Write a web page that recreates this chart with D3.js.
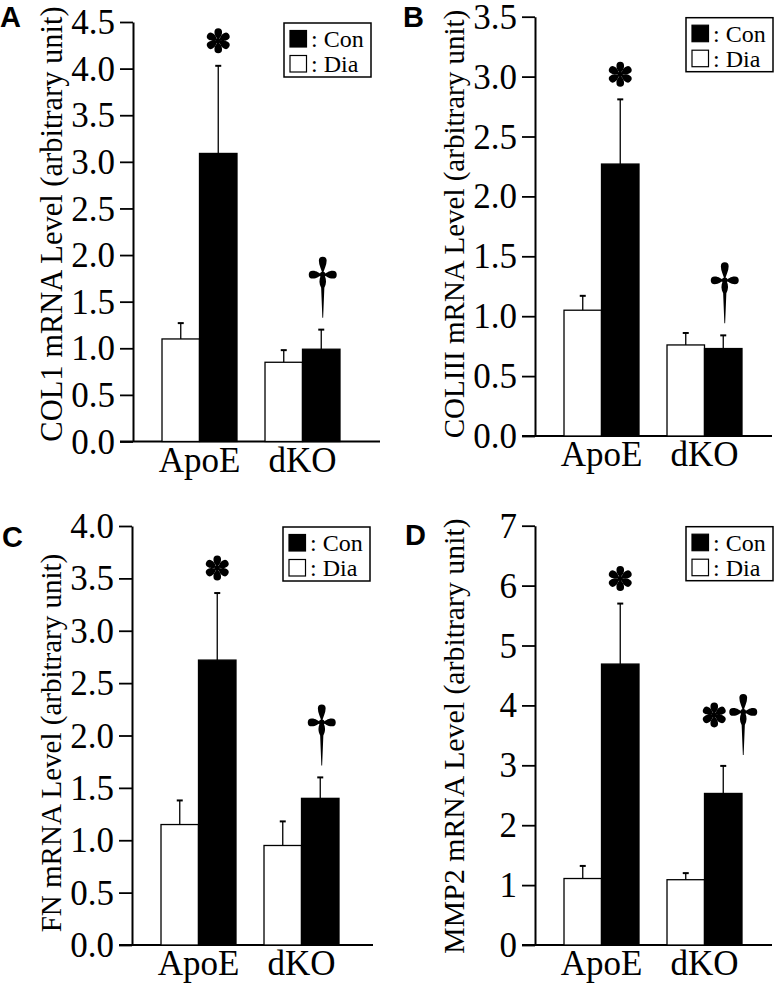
<!DOCTYPE html>
<html>
<head>
<meta charset="utf-8">
<script src="https://cdn.jsdelivr.net/npm/d3@7"></script>
<style>
  html, body { margin: 0; padding: 0; background: #fff; }
  svg { display: block; }
</style>
</head>
<body>
<script>
// ---------------- DATA ----------------
const categories = ["ApoE", "dKO"];
const seriesNames = ["Dia", "Con"];
const legendLabels = [": Con", ": Dia"];

const panelLetters = ["A", "B", "C", "D"];
const yTitles = [
  "COL1 mRNA Level (arbitrary unit)",
  "COLIII mRNA Level (arbitrary unit)",
  "FN mRNA Level (arbitrary unit)",
  "MMP2 mRNA Level (arbitrary unit)"
];
const yMax = [4.5, 3.5, 4.0, 7];
const yStep = [0.5, 0.5, 0.5, 1];
const yFormat = [".1f", ".1f", ".1f", "d"];

// means [ApoE, dKO]
const diaMean = [[1.10, 0.85], [1.05, 0.76], [1.15, 0.95], [1.11, 1.09]];
const diaErr  = [[0.17, 0.13], [0.12, 0.10], [0.23, 0.23], [0.21, 0.11]];
const conMean = [[3.09, 0.99], [2.27, 0.73], [2.72, 1.40], [4.69, 2.53]];
const conErr  = [[0.94, 0.21], [0.54, 0.11], [0.64, 0.20], [1.01, 0.46]];
// significance marks on the Con bars [ApoE, dKO]
const marks = [["*", "†"], ["*", "†"], ["*", "†"], ["*", "*†"]];

// ---------------- LAYOUT ----------------
const W = 777, H = 987;
const layout = [
  { axisX: 133, yTop: 22,  yBot: 441.5, xEnd: 380, letterX: 0,   letterY: 27,  titleY: 224, titleSize: 30.5 },
  { axisX: 535, yTop: 16.7, yBot: 436,  xEnd: 772, letterX: 403, letterY: 27,  titleY: 224, titleSize: 29 },
  { axisX: 132, yTop: 526, yBot: 945,   xEnd: 373, letterX: 2,   letterY: 547, titleY: 743, titleSize: 29 },
  { axisX: 535, yTop: 525.7, yBot: 945, xEnd: 772, letterX: 405, letterY: 545, titleY: 736, titleSize: 29.8 }
];

const serif = "'Liberation Serif', 'Times New Roman', serif";
const sans = "'Liberation Sans', Arial, sans-serif";

const svg = d3.select("body").append("svg")
  .attr("width", W).attr("height", H)
  .attr("viewBox", `0 0 ${W} ${H}`);

svg.append("rect").attr("width", W).attr("height", H).attr("fill", "#fff");

// teardrop petal path pointing up (negative y), from origin
function petal(L, r) {
  return `M0,0 C${r*0.35},${-L*0.3} ${r},${-(L-2.2*r)} ${r},${-(L-r)} ` +
         `A${r},${r} 0 0 0 ${-r},${-(L-r)} ` +
         `C${-r},${-(L-2.2*r)} ${-r*0.35},${-L*0.3} 0,0 Z`;
}
function drawAsterisk(g, cx, cy) {
  const a = g.append("g").attr("transform", `translate(${cx},${cy})`);
  for (let k = 0; k < 6; k++) {
    a.append("path").attr("d", petal(12.5, 3.8))
      .attr("transform", `rotate(${k * 60})`).attr("fill", "#000");
  }
  a.append("circle").attr("r", 2.5).attr("fill", "#000");
}
function drawDagger(g, cx, cy) {
  const a = g.append("g").attr("transform", `translate(${cx},${cy})`);
  a.append("path").attr("d", petal(18, 3.9)).attr("fill", "#000");
  a.append("path").attr("d", petal(14, 3.9)).attr("transform", "rotate(-90)").attr("fill", "#000");
  a.append("path").attr("d", petal(14, 3.9)).attr("transform", "rotate(90)").attr("fill", "#000");
  a.append("path")
    .attr("d", "M-2,1 C-3.8,5 -3.8,9 -1.6,13 L-0.4,43 L0.4,43 L1.6,13 C3.8,9 3.8,5 2,1 Z")
    .attr("fill", "#000");
  a.append("circle").attr("r", 2.8).attr("fill", "#000");
}

layout.forEach((L, p) => {
  const g = svg.append("g");

  const y = d3.scaleLinear().domain([0, yMax[p]]).range([L.yBot, L.yTop]);
  const x0 = d3.scaleBand().domain(categories)
    .range([L.axisX, L.axisX + 236]).paddingInner(0.272).paddingOuter(0.2816);
  const x1 = d3.scaleBand().domain(seriesNames).range([0, x0.bandwidth()]).padding(0);

  // y axis
  const ticks = d3.range(0, yMax[p] + yStep[p] / 2, yStep[p]);
  const yAxis = d3.axisLeft(y).tickValues(ticks)
    .tickFormat(d3.format(yFormat[p]))
    .tickSizeInner(13).tickSizeOuter(0).tickPadding(5);
  const ga = g.append("g").attr("transform", `translate(${L.axisX},0)`).call(yAxis);
  ga.attr("font-family", serif).attr("font-size", 35);
  ga.select(".domain").attr("stroke", "#000").attr("stroke-width", 2);
  ga.selectAll(".tick line").attr("stroke", "#000").attr("stroke-width", 1.8);
  ga.selectAll(".tick text").attr("font-family", serif).attr("font-size", 35)
    .attr("fill", "#000").attr("dy", "0.33em");

  // x axis baseline (extends to the left tick end)
  g.append("line")
    .attr("x1", L.axisX - 13).attr("x2", L.xEnd)
    .attr("y1", y(0)).attr("y2", y(0))
    .attr("stroke", "#000").attr("stroke-width", 2);

  // category labels
  g.selectAll(".cat").data(categories).enter().append("text")
    .attr("x", d => x0(d) + x0.bandwidth() / 2)
    .attr("y", y(0) + 30)
    .attr("text-anchor", "middle")
    .attr("font-family", serif).attr("font-size", 35).attr("fill", "#000")
    .text(d => d);

  // bars
  const rows = [];
  categories.forEach((c, i) => {
    rows.push({ cat: c, s: "Dia", m: diaMean[p][i], e: diaErr[p][i], i });
    rows.push({ cat: c, s: "Con", m: conMean[p][i], e: conErr[p][i], i });
  });

  rows.forEach(d => {
    const cx = x0(d.cat) + x1(d.s) + x1.bandwidth() / 2;
    g.append("line").attr("x1", cx).attr("x2", cx)
      .attr("y1", y(d.m)).attr("y2", y(d.m + d.e))
      .attr("stroke", "#000").attr("stroke-width", 1.3);
    g.append("line").attr("x1", cx - 3).attr("x2", cx + 3)
      .attr("y1", y(d.m + d.e)).attr("y2", y(d.m + d.e))
      .attr("stroke", "#000").attr("stroke-width", 2);
  });

  g.selectAll(".bar").data(rows).enter().append("rect")
    .attr("x", d => x0(d.cat) + x1(d.s))
    .attr("y", d => y(d.m))
    .attr("width", x1.bandwidth())
    .attr("height", d => y(0) - y(d.m))
    .attr("fill", d => d.s === "Con" ? "#000" : "#fff")
    .attr("stroke", "#000").attr("stroke-width", 1.3);

  // significance marks above Con bars
  categories.forEach((c, i) => {
    const mk = marks[p][i];
    const cx = x0(c) + x1("Con") + x1.bandwidth() / 2;
    const top = y(conMean[p][i] + conErr[p][i]);
    if (mk === "*") {
      drawAsterisk(g, cx, top - 25);
    } else if (mk === "†") {
      drawDagger(g, cx + 1.5, top - 55);
    } else if (mk === "*†") {
      drawAsterisk(g, cx - 9, top - 51);
      drawDagger(g, cx + 20, top - 54);
    }
  });

  // y title
  g.append("text")
    .attr("transform", `translate(${L.axisX - 71},${L.titleY}) rotate(-90)`)
    .attr("text-anchor", "middle")
    .attr("font-family", serif).attr("font-size", L.titleSize).attr("fill", "#000")
    .text(yTitles[p]);

  // panel letter
  g.append("text").attr("x", L.letterX).attr("y", L.letterY)
    .attr("font-family", sans).attr("font-weight", "bold").attr("font-size", 29)
    .attr("fill", "#000").text(panelLetters[p]);

  // legend
  const lg = g.append("g").attr("transform", `translate(${L.axisX + 151},${L.yTop + 1})`);
  lg.append("rect").attr("width", 87).attr("height", 54)
    .attr("fill", "#fff").attr("stroke", "#000").attr("stroke-width", 1.5);
  legendLabels.forEach((t, k) => {
    lg.append("rect").attr("x", 6).attr("y", 7.5 + k * 25)
      .attr("width", 16.5).attr("height", 16.5)
      .attr("fill", k === 0 ? "#000" : "#fff")
      .attr("stroke", "#000").attr("stroke-width", 1.2);
    lg.append("text").attr("x", 27).attr("y", 24 + k * 25)
      .attr("font-family", serif).attr("font-size", 24).attr("fill", "#000")
      .text(t);
  });
});
</script>
</body>
</html>
